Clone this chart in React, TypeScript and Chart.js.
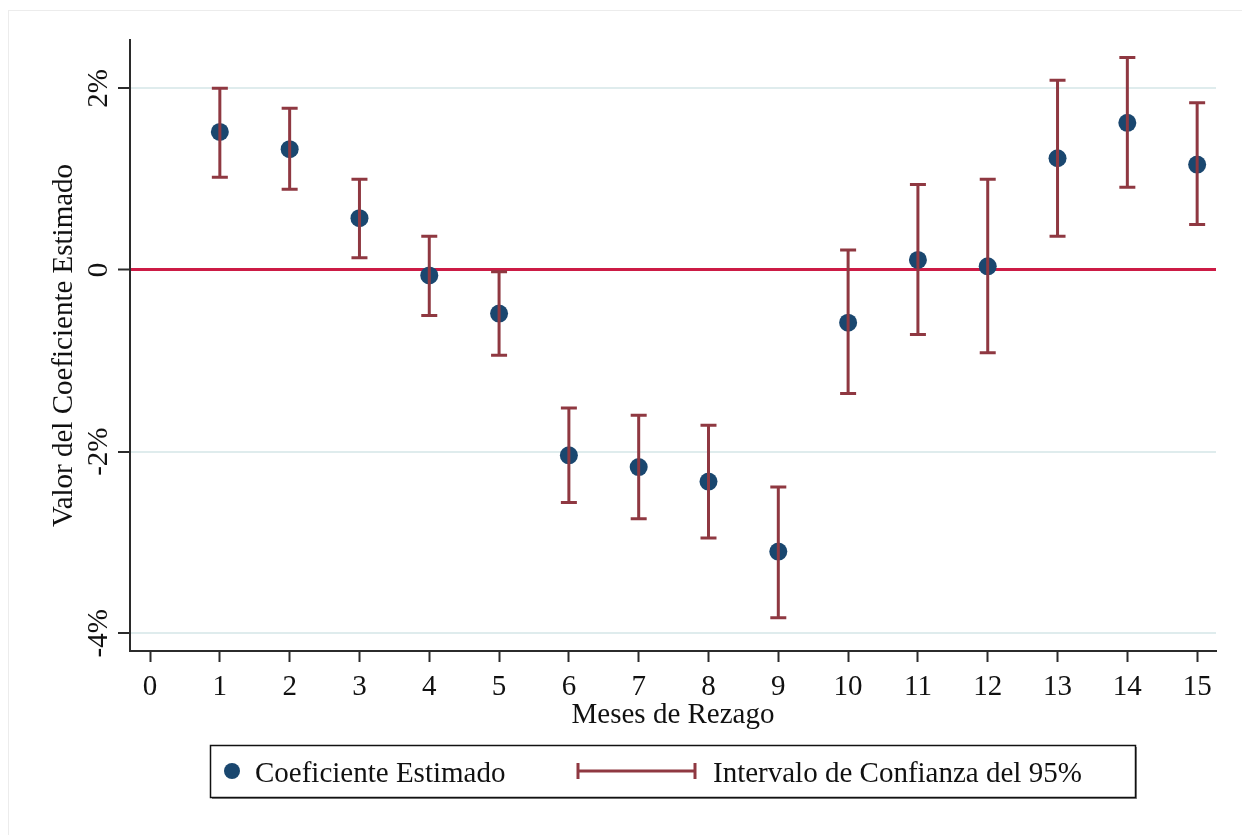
import { useEffect, useRef } from "react";
import { Chart, registerables } from "chart.js";

Chart.register(...registerables);

// Estimated coefficients by lag (in %) and their 95% confidence bounds
const lags = [1, 2, 3, 4, 5, 6, 7, 8, 9, 10, 11, 12, 13, 14, 15];
const coef = [1.52, 1.33, 0.57, -0.06, -0.48, -2.04, -2.17, -2.33, -3.1, -0.58, 0.11, 0.04, 1.23, 1.62, 1.16];
const ciLow = [1.02, 0.89, 0.135, -0.5, -0.94, -2.56, -2.74, -2.95, -3.83, -1.36, -0.71, -0.91, 0.37, 0.91, 0.5];
const ciHigh = [2.0, 1.78, 1.0, 0.37, -0.02, -1.52, -1.6, -1.71, -2.39, 0.22, 0.94, 1.0, 2.09, 2.34, 1.84];

const xTicks = [0, 1, 2, 3, 4, 5, 6, 7, 8, 9, 10, 11, 12, 13, 14, 15];
const yTicks = [-4, -2, 0, 2];
const yTickLabels = ["-4%", "-2%", "0", "2%"];

const xTitle = "Meses de Rezago";
const yTitle = "Valor del Coeficiente Estimado";
const legendLabels = ["Coeficiente Estimado", "Intervalo de Confianza del 95%"];

const NAVY = "#1a476f";
const MAROON = "#8f3841";
const CRIMSON = "#cc1b45";
const GRID = "#dfeced";
const AXIS = "#2b2b2b";
const TEXT = "#111111";
const FONT = '"Liberation Serif", "Times New Roman", serif';

const decorations = {
  id: "decorations",
  beforeDraw(chart: any) {
    const { ctx } = chart;
    ctx.save();
    ctx.fillStyle = "#ffffff";
    ctx.fillRect(0, 0, chart.width, chart.height);
    ctx.strokeStyle = "#ececec";
    ctx.lineWidth = 1;
    ctx.strokeRect(8.5, 10.5, chart.width + 20, chart.height + 20);
    ctx.restore();
  },
  afterDatasetsDraw(chart: any) {
    const { ctx, scales } = chart;
    const xs = scales.x;
    const ys = scales.y;
    ctx.save();
    // confidence interval bars, drawn over the markers
    ctx.strokeStyle = MAROON;
    ctx.lineWidth = 3;
    ctx.lineCap = "butt";
    const cap = 8;
    lags.forEach((lag, i) => {
      const px = xs.getPixelForValue(lag);
      const top = ys.getPixelForValue(ciHigh[i]);
      const bot = ys.getPixelForValue(ciLow[i]);
      ctx.beginPath();
      ctx.moveTo(px, top);
      ctx.lineTo(px, bot);
      ctx.moveTo(px - cap, top);
      ctx.lineTo(px + cap, top);
      ctx.moveTo(px - cap, bot);
      ctx.lineTo(px + cap, bot);
      ctx.stroke();
    });
    ctx.restore();
  },
  afterDraw(chart: any) {
    const { ctx, scales, chartArea } = chart;
    const ys = scales.y;
    ctx.save();
    ctx.fillStyle = TEXT;
    ctx.font = `29px ${FONT}`;

    // rotated y tick labels
    ctx.textAlign = "center";
    ctx.textBaseline = "alphabetic";
    yTicks.forEach((v, i) => {
      const py = ys.getPixelForValue(v);
      ctx.save();
      ctx.translate(107, py);
      ctx.rotate(-Math.PI / 2);
      ctx.fillText(yTickLabels[i], 0, 0);
      ctx.restore();
    });

    // y axis title
    ctx.save();
    ctx.translate(72, (chartArea.top + chartArea.bottom) / 2);
    ctx.rotate(-Math.PI / 2);
    ctx.fillText(yTitle, 0, 0);
    ctx.restore();

    // x axis title
    ctx.fillText(xTitle, (chartArea.left + chartArea.right) / 2, 723);

    // legend box with a drop shadow
    const bx = 210, by = 745, bw = 925, bh = 52;
    ctx.fillStyle = "#8a8a8a";
    ctx.fillRect(bx + 2, by + 2, bw, bh);
    ctx.fillStyle = "#ffffff";
    ctx.fillRect(bx, by, bw, bh);
    ctx.strokeStyle = "#111111";
    ctx.lineWidth = 1.5;
    ctx.strokeRect(bx + 0.5, by + 0.5, bw, bh);

    const cy = by + 26;
    ctx.fillStyle = NAVY;
    ctx.beginPath();
    ctx.arc(232, cy, 8, 0, Math.PI * 2);
    ctx.fill();

    ctx.strokeStyle = MAROON;
    ctx.lineWidth = 3;
    ctx.beginPath();
    ctx.moveTo(578, cy);
    ctx.lineTo(695, cy);
    ctx.moveTo(578, cy - 8);
    ctx.lineTo(578, cy + 8);
    ctx.moveTo(695, cy - 8);
    ctx.lineTo(695, cy + 8);
    ctx.stroke();

    ctx.fillStyle = TEXT;
    ctx.textAlign = "left";
    ctx.fillText(legendLabels[0], 255, cy + 11);
    ctx.fillText(legendLabels[1], 713, cy + 11);
    ctx.restore();
  },
};

export default function App() {
  const canvasRef = useRef<HTMLCanvasElement | null>(null);

  useEffect(() => {
    if (!canvasRef.current) return;
    const chart = new Chart(canvasRef.current, {
      type: "scatter",
      data: {
        datasets: [
          {
            label: legendLabels[0],
            data: lags.map((x, i) => ({ x, y: coef[i] })),
            pointRadius: 9,
            pointHoverRadius: 9,
            pointBackgroundColor: NAVY,
            pointBorderWidth: 0,
            showLine: false,
          },
        ],
      },
      options: {
        responsive: false,
        animation: false,
        events: [],
        layout: { padding: { left: 0, top: 40, right: 26, bottom: 0 } },
        plugins: {
          legend: { display: false },
          tooltip: { enabled: false },
        },
        scales: {
          x: {
            type: "linear",
            min: -0.287,
            max: 15.27,
            afterBuildTicks: (s: any) => {
              s.ticks = xTicks.map((v) => ({ value: v }));
            },
            afterFit: (s: any) => {
              s.height = 184;
            },
            grid: {
              drawOnChartArea: false,
              drawTicks: true,
              tickLength: 11,
              tickColor: AXIS,
              tickWidth: 2,
            },
            border: { display: true, color: AXIS, width: 2 },
            ticks: {
              autoSkip: false,
              maxRotation: 0,
              padding: 8,
              color: TEXT,
              font: { family: FONT, size: 29 },
              callback: (v: any) => String(v),
            },
          },
          y: {
            type: "linear",
            min: -4.195,
            max: 2.532,
            afterBuildTicks: (s: any) => {
              s.ticks = yTicks.map((v) => ({ value: v }));
            },
            afterFit: (s: any) => {
              s.width = 130;
            },
            grid: {
              color: (c: any) => (c.tick && c.tick.value === 0 ? CRIMSON : GRID),
              lineWidth: (c: any) => (c.tick && c.tick.value === 0 ? 3 : 2),
              drawTicks: true,
              tickLength: 12,
              tickColor: AXIS,
              tickWidth: 2,
            },
            border: { display: true, color: AXIS, width: 2 },
            ticks: { display: false },
          },
        },
      },
      plugins: [decorations],
    });
    return () => chart.destroy();
  }, []);

  return (
    <div style={{ position: "fixed", left: 0, top: 0, width: 1242, height: 835, background: "#fff" }}>
      <canvas ref={canvasRef} width={1242} height={835} style={{ display: "block" }} />
    </div>
  );
}
